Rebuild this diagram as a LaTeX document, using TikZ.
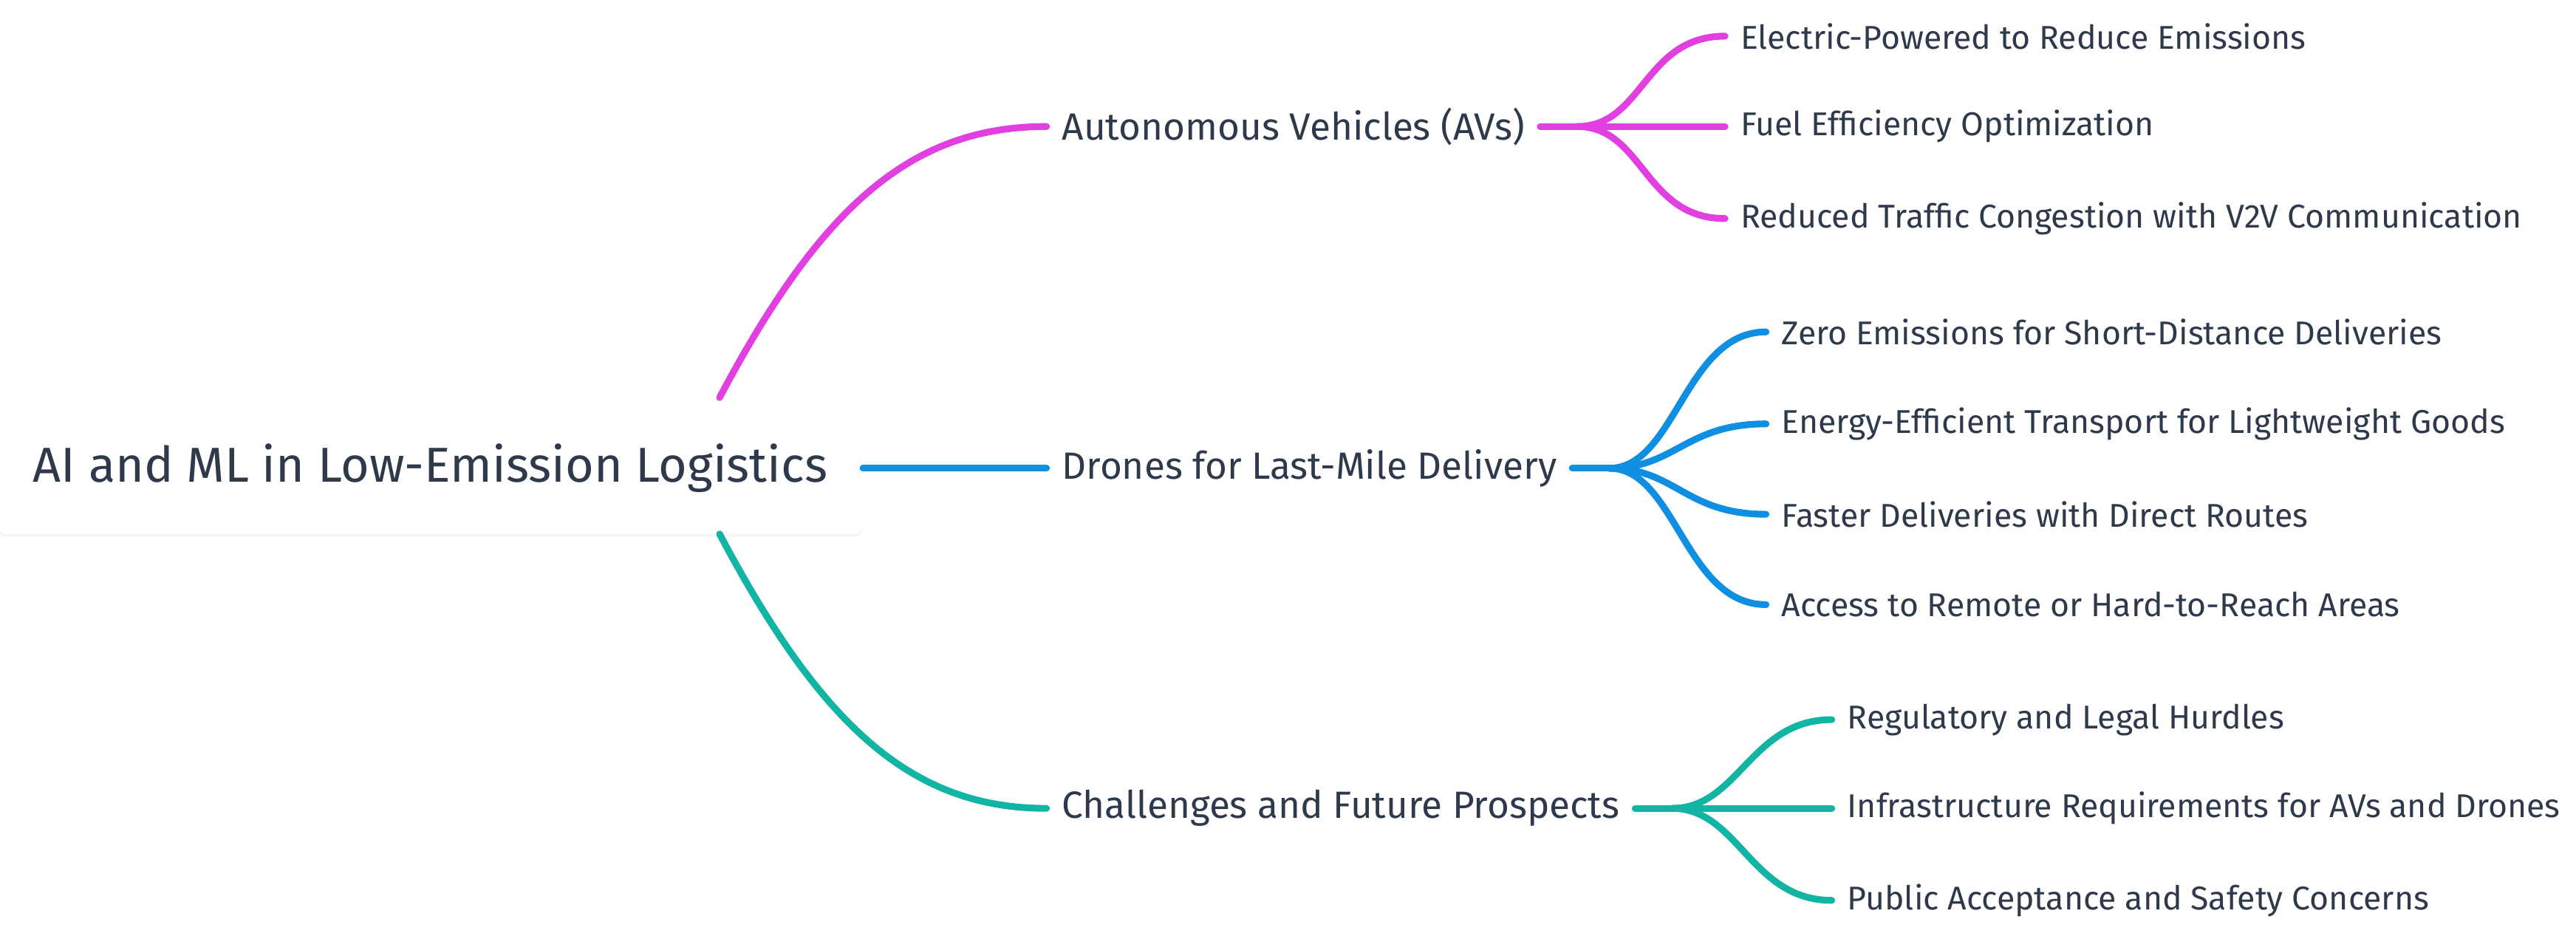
\documentclass[tikz,border=0pt]{standalone}
\usepackage{fontspec}
\setmainfont{Fira Sans}
\usetikzlibrary{shadows}
\definecolor{ink}{HTML}{2E3A4B}
\definecolor{cav}{HTML}{E23FE0}
\definecolor{cdr}{HTML}{0E8FE2}
\definecolor{cch}{HTML}{12B5A3}
\tikzset{
	root/.style={fill=white,rounded corners=3pt,inner sep=0pt,minimum width=11.7cm,minimum height=1.78cm,text=ink,font=\fontsize{18.9}{21}\selectfont,drop shadow={opacity=0.08,shadow xshift=0pt,shadow yshift=-1pt}},
	topic/.style={anchor=west,text=ink,inner sep=2pt,outer sep=4pt,font=\fontsize{14.6}{16}\selectfont},
	leaf/.style={anchor=west,text=ink,inner sep=2pt,outer sep=4pt,font=\fontsize{12.7}{14}\selectfont},
	branch/.style={line width=2.6pt,line cap=round}
}
\begin{document}
\begin{tikzpicture}[x=0.02224cm,y=-0.02224cm]
	\useasboundingbox (0,0) rectangle (1568,571.5);
	
	%% nodes
	\node [root] (root) at (262,285) {AI and ML in Low-Emission Logistics};
	\node [topic] (av) at (637,77) {Autonomous Vehicles (AVs)};
	\node [topic] (dr) at (637,285) {Drones for Last-Mile Delivery};
	\node [topic] (ch) at (637,492) {Challenges and Future Prospects};
	
	\node [leaf] (av1) at (1050,22) {Electric-Powered to Reduce Emissions};
	\node [leaf] (av2) at (1050,77) {Fuel Efficiency Optimization};
	\node [leaf] (av3) at (1050,133) {Reduced Traffic Congestion with V2V Communication};
	
	\node [leaf] (dr1) at (1075,202) {Zero Emissions for Short-Distance Deliveries};
	\node [leaf] (dr2) at (1075,258) {Energy-Efficient Transport for Lightweight Goods};
	\node [leaf] (dr3) at (1075,313) {Faster Deliveries with Direct Routes};
	\node [leaf] (dr4) at (1075,368) {Access to Remote or Hard-to-Reach Areas};
	
	\node [leaf] (ch1) at (1115,438) {Regulatory and Legal Hurdles};
	\node [leaf] (ch2) at (1115,492) {Infrastructure Requirements for AVs and Drones};
	\node [leaf] (ch3) at (1115,548) {Public Acceptance and Safety Concerns};
	
	%% root to topics
	\coordinate (rt) at (438,242);
	\coordinate (rb) at (438,325);
	\draw [branch,cav] (rt) .. controls (500,125) and (555,77) .. (av.west);
	\draw [branch,cdr] (root.east) -- (dr.west);
	\draw [branch,cch] (rb) .. controls (500,442) and (555,492) .. (ch.west);
	
	%% topics to leaves
	\coordinate (avf) at ([xshift=0.5cm]av.east);
	\draw [branch,cav] (av.east) -- (avf);
	\foreach \l in {av1,av2,av3}
		\draw [branch,cav] (avf) .. controls ([xshift=0.9cm]avf) and ([xshift=-1.1cm]\l.west) .. (\l.west);
	
	\coordinate (drf) at ([xshift=0.5cm]dr.east);
	\draw [branch,cdr] (dr.east) -- (drf);
	\foreach \l in {dr1,dr2,dr3,dr4}
		\draw [branch,cdr] (drf) .. controls ([xshift=0.9cm]drf) and ([xshift=-1.1cm]\l.west) .. (\l.west);
	
	\coordinate (chf) at ([xshift=0.5cm]ch.east);
	\draw [branch,cch] (ch.east) -- (chf);
	\foreach \l in {ch1,ch2,ch3}
		\draw [branch,cch] (chf) .. controls ([xshift=0.9cm]chf) and ([xshift=-1.1cm]\l.west) .. (\l.west);
\end{tikzpicture}
\end{document}
